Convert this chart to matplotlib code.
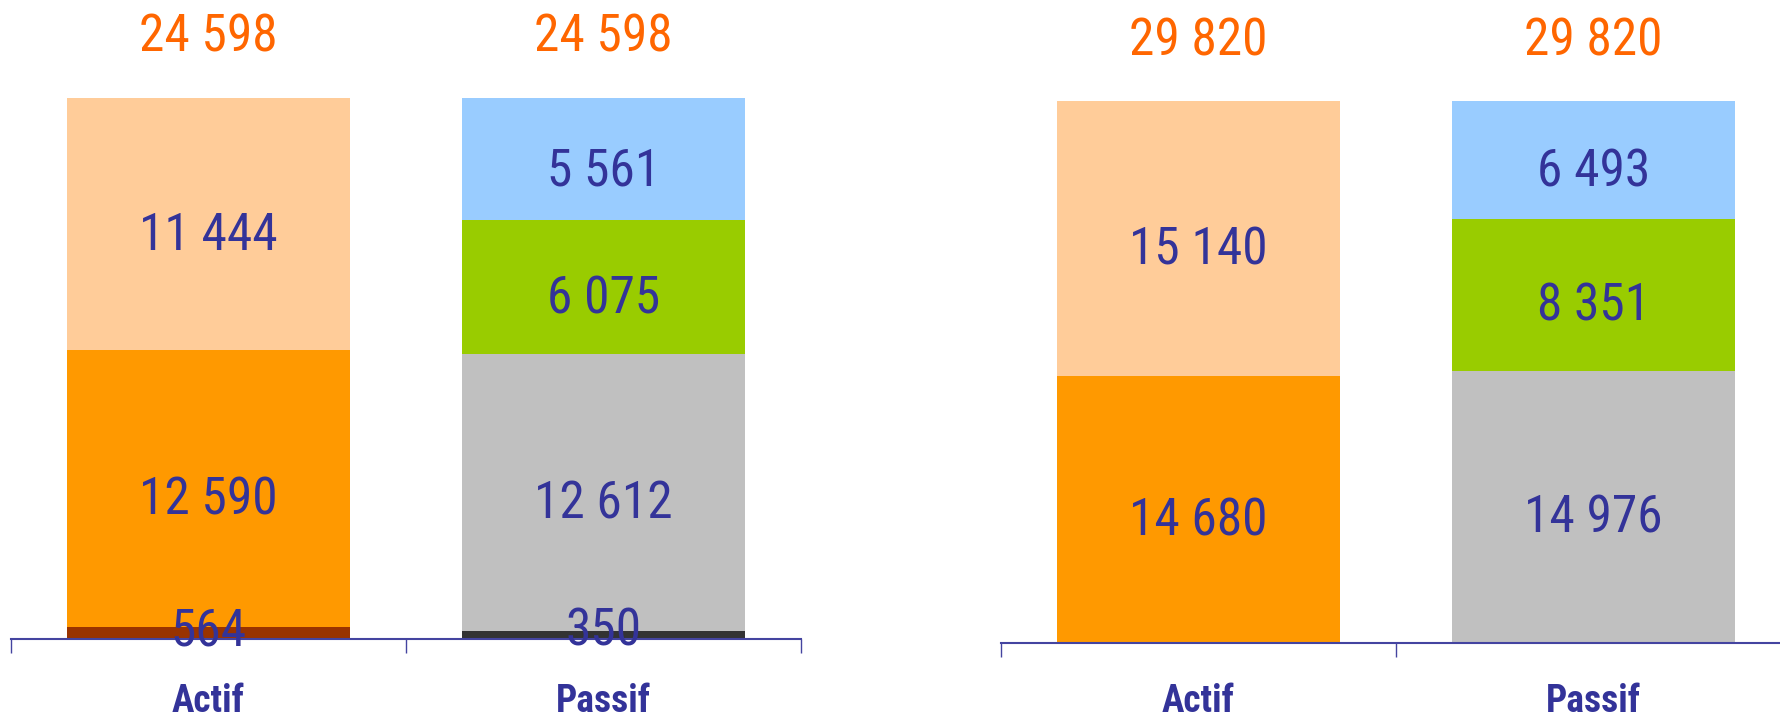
import matplotlib
matplotlib.use("Agg")
import matplotlib.pyplot as plt

# data
categories = ["Actif", "Passif"]

left_actif = [564, 12590, 11444]
left_passif = [350, 12612, 6075, 5561]
right_actif = [14680, 15140]
right_passif = [14976, 8351, 6493]

actif_colors = ["#993300", "#FF9900", "#FFCC99"]
passif_colors = ["#333333", "#C0C0C0", "#99CC00", "#99CCFF"]

NAVY = "#333399"
ORANGE = "#FF6600"
AXIS = "#4444A0"
FONT = ["Liberation Sans Narrow", "Roboto Condensed", "Liberation Sans", "DejaVu Sans"]

plt.rcParams["font.family"] = FONT

W, H = 1780, 722
PT = 0.72  # points per pixel at dpi 100
fig = plt.figure(figsize=(W / 100, H / 100), dpi=100)


def fmt(v):
    return f"{v:,}".replace(",", " ")


def panel(rect_px, stacks, colors_list):
    x0, top, x1, bottom = rect_px
    ax = fig.add_axes([x0 / W, (H - bottom) / H, (x1 - x0) / W, (bottom - top) / H])
    total = sum(stacks[0])
    ppu = (bottom - top) / total  # pixels per unit
    for i, (vals, cols) in enumerate(zip(stacks, colors_list)):
        base = 0
        for v, c in zip(vals, cols):
            ax.bar(i, v, bottom=base, width=0.714, color=c, zorder=1)
            # label centre in pixels above the axis, kept off the axis line
            mid = max((base + v / 2) * ppu - 7, 12)
            ax.annotate(fmt(v), xy=(i, 0), xytext=(0, (mid - 19) * PT),
                        textcoords="offset points", ha="center", va="baseline",
                        fontsize=37, color=NAVY, zorder=3, annotation_clip=False)
            base += v
        ax.annotate(fmt(base), xy=(i, base), xytext=(0, 46 * PT),
                    textcoords="offset points", ha="center", va="baseline",
                    fontsize=37, color=ORANGE, annotation_clip=False)
        ax.annotate(categories[i], xy=(i, 2), xycoords=("data", "figure pixels"),
                    ha="center", va="bottom", fontsize=27, fontweight="bold",
                    color=NAVY, annotation_clip=False)
    ax.set_xlim(-0.5, 1.5)
    ax.set_ylim(0, total)
    for s in ["left", "right", "top"]:
        ax.spines[s].set_visible(False)
    ax.spines["bottom"].set_color(AXIS)
    ax.spines["bottom"].set_linewidth(1.5)
    ax.spines["bottom"].set_zorder(2)
    ax.set_xticks([-0.5, 0.5, 1.5])
    ax.set_xticklabels([])
    ax.tick_params(axis="x", direction="out", length=10, width=1, color=AXIS)
    ax.set_yticks([])
    ax.patch.set_alpha(0)
    return ax


panel((11, 98, 801, 639), [left_actif, left_passif], [actif_colors, passif_colors])
panel((1001, 101, 1791, 643), [right_actif, right_passif],
      [actif_colors[1:], passif_colors[1:]])

fig.savefig("out.png", dpi=100)
